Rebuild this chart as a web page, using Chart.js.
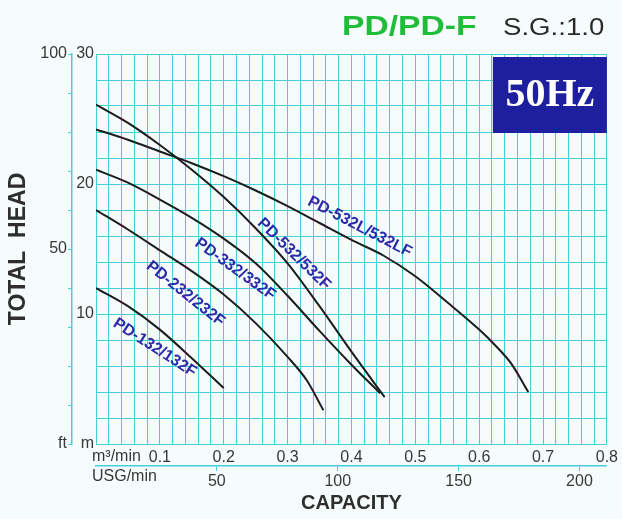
<!DOCTYPE html>
<html>
<head>
<meta charset="utf-8">
<script src="https://cdn.jsdelivr.net/npm/chart.js@4.4.1/dist/chart.umd.min.js"></script>
<style>
  html, body { margin: 0; padding: 0; background: #f6fbfc; }
  #wrap { width: 622px; height: 519px; }
</style>
</head>
<body>
<div id="wrap"><canvas id="c" width="622" height="519"></canvas></div>
<script>
// ---- data (m3/min vs total head in m) ----
const flow532L = [0, 0.05, 0.1, 0.15, 0.2, 0.25, 0.3, 0.35, 0.4, 0.45, 0.5, 0.55, 0.6, 0.625, 0.65, 0.677];
const head532L = [24.2, 23.4, 22.5, 21.6, 20.6, 19.5, 18.3, 17.0, 15.7, 14.5, 12.9, 10.9, 8.8, 7.6, 6.2, 4.0];
const flow532 = [0, 0.05, 0.1, 0.15, 0.2, 0.25, 0.3, 0.35, 0.4, 0.452];
const head532 = [26.1, 24.7, 23.0, 21.1, 19.0, 16.6, 13.9, 10.6, 7.1, 3.6];
const flow332 = [0, 0.05, 0.1, 0.15, 0.2, 0.25, 0.3, 0.35, 0.4, 0.445];
const head332 = [21.1, 20.1, 18.8, 17.4, 15.8, 13.9, 11.4, 8.7, 6.1, 3.9];
const flow232 = [0, 0.05, 0.1, 0.15, 0.2, 0.25, 0.3, 0.33, 0.356];
const head232 = [18.0, 16.5, 14.9, 13.3, 11.5, 9.3, 6.7, 4.9, 2.6];
const flow132 = [0, 0.05, 0.1, 0.15, 0.2];
const head132 = [12.0, 10.6, 8.8, 6.6, 4.3];
const seriesNames = ['PD-532L/532LF', 'PD-532/532F', 'PD-332/332F', 'PD-232/232F', 'PD-132/132F'];

// ---- ticks ----
const xTickLabels = ['0.1', '0.2', '0.3', '0.4', '0.5', '0.6', '0.7', '0.8'];
const usgTickLabels = [50, 100, 150, 200];
const mTickLabels = [10, 20, 30];
const ftTickLabels = [50, 100];
const xMin = 0, xMax = 0.8, xStep = 0.02;
const yMin = 0, yMax = 30, yStep = 2;
const ftMax = 100, ftStep = 10;
const USG_PER_M3 = 264.172;

// ---- label anchors (data coords) + angles ----
const curveLabels = [
  { text: 'PD-532L/532LF', x: 0.413, y: 16.7, angle: 27.4 },
  { text: 'PD-532/532F',   x: 0.310, y: 14.6, angle: 44.3 },
  { text: 'PD-332/332F',   x: 0.218, y: 13.45, angle: 35.8 },
  { text: 'PD-232/232F',   x: 0.140, y: 11.55, angle: 38.5 },
  { text: 'PD-132/132F',   x: 0.092, y: 7.4, angle: 32.8 }
];

const CYAN = 'rgb(66,208,218)';
const TXT = '#383838';
const LBL = '#2b2ba8';
const SANS = '"Liberation Sans", Arial, sans-serif';

function toPts(xs, ys) { return xs.map((x, i) => ({ x: x, y: ys[i] })); }
const seriesData = [
  toPts(flow532L, head532L), toPts(flow532, head532), toPts(flow332, head332),
  toPts(flow232, head232), toPts(flow132, head132)
];

function rangeTicks(min, max, step) {
  const out = [];
  const n = Math.round((max - min) / step);
  for (let i = 0; i <= n; i++) out.push({ value: +(min + i * step).toFixed(4) });
  return out;
}

const bgPlugin = {
  id: 'bg',
  beforeDraw(chart) {
    const c = chart.ctx;
    c.save();
    c.fillStyle = '#f6fbfc';
    c.fillRect(0, 0, chart.width, chart.height);
    c.restore();
  }
};

const textPlugin = {
  id: 'texts',
  afterDraw(chart) {
    const c = chart.ctx;
    const xs = chart.scales.x, ys = chart.scales.y;
    const area = chart.chartArea;
    c.save();
    // Title
    c.textBaseline = 'alphabetic';
    c.textAlign = 'left';
    c.save();
    c.translate(342, 35);
    c.scale(1.2, 1);
    c.fillStyle = '#20bd3b';
    c.font = 'bold 28px ' + SANS;
    c.fillText('PD/PD-F', 0, 0);
    c.restore();
    c.save();
    c.translate(503, 35);
    c.scale(1.2, 1);
    c.fillStyle = '#2a2a2a';
    c.font = '23px ' + SANS;
    c.fillText('S.G.:1.0', 0, 0);
    c.restore();

    // 50Hz box
    const bx = area.right - 114, by = area.top + 3, bw = 114, bh = 76;
    c.fillStyle = '#1d1f9e';
    c.fillRect(bx, by, bw, bh);
    c.fillStyle = '#ffffff';
    c.font = 'bold 40px "Liberation Serif", "Times New Roman", serif';
    c.textAlign = 'center';
    c.textBaseline = 'middle';
    c.fillText('50Hz', bx + bw / 2, by + bh / 2 + 1);

    // curve labels
    c.fillStyle = LBL;
    c.font = 'bold 16px ' + SANS;
    curveLabels.forEach(l => {
      c.save();
      c.translate(xs.getPixelForValue(l.x), ys.getPixelForValue(l.y));
      c.rotate(l.angle * Math.PI / 180);
      c.fillText(l.text, 0, 0);
      c.restore();
    });

    // unit labels for the bottom axes
    c.fillStyle = TXT;
    c.font = '16px ' + SANS;
    c.textAlign = 'left';
    c.textBaseline = 'middle';
    c.fillText('m\u00B3/min', area.left - 4, area.bottom + 13);
    c.fillText('USG/min', area.left - 4, area.bottom + 33);
    c.restore();
  }
};

new Chart(document.getElementById('c'), {
  type: 'scatter',
  data: {
    datasets: seriesData.map((d, i) => ({
      label: seriesNames[i],
      data: d,
      showLine: true,
      borderColor: '#1c1c1c',
      borderWidth: 2,
      pointRadius: 0,
      fill: false,
      cubicInterpolationMode: 'monotone'
    }))
  },
  options: {
    responsive: false,
    animation: false,
    layout: { padding: { top: 54, right: 15, left: 0, bottom: 0 } },
    plugins: { legend: { display: false }, tooltip: { enabled: false } },
    scales: {
      x: {
        type: 'linear', position: 'bottom', weight: 0, min: xMin, max: xMax,
        afterBuildTicks: s => { s.ticks = rangeTicks(xMin, xMax, xStep); },
        afterFit: s => { s.height = 22; },
        grid: { color: CYAN, lineWidth: 1, drawTicks: false },
        border: { color: CYAN, width: 1 },
        ticks: {
          autoSkip: false, maxRotation: 0, padding: 4, color: TXT,
          font: { family: SANS, size: 16 },
          callback: v => { const k = Math.round(v * 10); return (Math.abs(v * 10 - k) < 1e-6 && k >= 1) ? xTickLabels[k - 1] : ''; }
        }
      },
      x2: {
        type: 'linear', position: 'bottom', weight: 1, min: 0, max: xMax * USG_PER_M3,
        afterBuildTicks: s => { s.ticks = usgTickLabels.map(v => ({ value: v })); },
        afterFit: s => { s.height = 53; },
        grid: { drawOnChartArea: false, tickLength: 5, tickColor: CYAN, color: CYAN },
        border: { color: CYAN, width: 1.5 },
        ticks: { autoSkip: false, maxRotation: 0, padding: 1, color: TXT, font: { family: SANS, size: 16 } },
        title: { display: true, text: 'CAPACITY', color: '#2e2e2e', font: { family: SANS, size: 20, weight: 'bold' }, padding: { top: 0, bottom: 4 } }
      },
      y: {
        type: 'linear', position: 'left', weight: 0, min: yMin, max: yMax,
        afterBuildTicks: s => { s.ticks = rangeTicks(yMin, yMax, yStep); },
        afterFit: s => { s.width = 24; },
        grid: { color: CYAN, lineWidth: 1, drawTicks: false },
        border: { color: CYAN, width: 1 },
        ticks: {
          autoSkip: false, padding: 2, color: TXT, font: { family: SANS, size: 16 },
          callback: v => v === 0 ? 'm' : (mTickLabels.includes(v) ? String(v) : '')
        }
      },
      y2: {
        type: 'linear', position: 'left', weight: 1, min: 0, max: ftMax,
        afterBuildTicks: s => { s.ticks = rangeTicks(0, ftMax, ftStep); },
        afterFit: s => { s.width = 72; },
        grid: { drawOnChartArea: false, tickLength: 4, tickColor: CYAN, color: CYAN },
        border: { color: CYAN, width: 1.5 },
        ticks: {
          autoSkip: false, padding: 1, color: TXT, font: { family: SANS, size: 16 },
          callback: v => v === 0 ? 'ft' : (ftTickLabels.includes(v) ? String(v) : '')
        },
        title: { display: true, text: 'TOTAL  HEAD', color: '#2e2e2e', font: { family: SANS, size: 23, weight: 'bold' }, padding: { top: 5, bottom: 0 } }
      }
    }
  },
  plugins: [bgPlugin, textPlugin]
});
</script>
</body>
</html>
